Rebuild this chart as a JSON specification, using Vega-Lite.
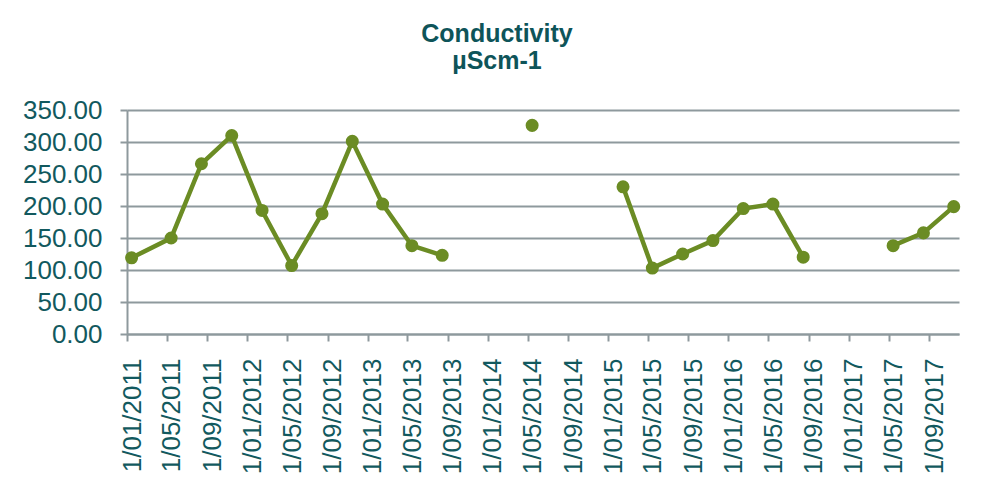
{
  "$schema": "https://vega.github.io/schema/vega-lite/v6.json",
  "autosize": {"type": "none"},
  "width": 832,
  "height": 224,
  "padding": {"left": 127, "top": 110, "right": 26, "bottom": 161},
  "background": "white",
  "title": {
    "text": ["Conductivity", "µScm-1"],
    "anchor": "middle",
    "frame": "group",
    "dx": -46,
    "offset": 23,
    "font": "Liberation Sans",
    "fontSize": 25,
    "fontWeight": "bold",
    "color": "#0E5459",
    "lineHeight": 27
  },
  "data": {
    "values": [
      {"date": "2011-01-15", "conductivity": 119},
      {"date": "2011-05-15", "conductivity": 150},
      {"date": "2011-08-15", "conductivity": 266},
      {"date": "2011-11-15", "conductivity": 310},
      {"date": "2012-02-15", "conductivity": 193},
      {"date": "2012-05-15", "conductivity": 107},
      {"date": "2012-08-15", "conductivity": 188},
      {"date": "2012-11-15", "conductivity": 301},
      {"date": "2013-02-15", "conductivity": 203},
      {"date": "2013-05-15", "conductivity": 138},
      {"date": "2013-08-15", "conductivity": 123},
      {"date": "2013-11-15", "conductivity": null},
      {"date": "2014-02-15", "conductivity": null},
      {"date": "2014-05-15", "conductivity": 326},
      {"date": "2014-08-15", "conductivity": null},
      {"date": "2014-11-15", "conductivity": null},
      {"date": "2015-02-15", "conductivity": 230},
      {"date": "2015-05-15", "conductivity": 103},
      {"date": "2015-08-15", "conductivity": 125},
      {"date": "2015-11-15", "conductivity": 146},
      {"date": "2016-02-15", "conductivity": 196},
      {"date": "2016-05-15", "conductivity": 203},
      {"date": "2016-08-15", "conductivity": 120},
      {"date": "2016-11-15", "conductivity": null},
      {"date": "2017-02-15", "conductivity": null},
      {"date": "2017-05-15", "conductivity": 138},
      {"date": "2017-08-15", "conductivity": 158},
      {"date": "2017-11-15", "conductivity": 199}
    ]
  },
  "encoding": {
    "x": {
      "field": "date",
      "type": "temporal",
      "title": null,
      "scale": {
        "type": "utc",
        "domain": [
          {"year": 2011, "month": 1, "date": 1, "utc": true},
          {"year": 2017, "month": 12, "date": 1, "utc": true}
        ]
      },
      "axis": {
        "values": [
          {"year": 2011, "month": 1, "date": 1, "utc": true},
          {"year": 2011, "month": 5, "date": 1, "utc": true},
          {"year": 2011, "month": 9, "date": 1, "utc": true},
          {"year": 2012, "month": 1, "date": 1, "utc": true},
          {"year": 2012, "month": 5, "date": 1, "utc": true},
          {"year": 2012, "month": 9, "date": 1, "utc": true},
          {"year": 2013, "month": 1, "date": 1, "utc": true},
          {"year": 2013, "month": 5, "date": 1, "utc": true},
          {"year": 2013, "month": 9, "date": 1, "utc": true},
          {"year": 2014, "month": 1, "date": 1, "utc": true},
          {"year": 2014, "month": 5, "date": 1, "utc": true},
          {"year": 2014, "month": 9, "date": 1, "utc": true},
          {"year": 2015, "month": 1, "date": 1, "utc": true},
          {"year": 2015, "month": 5, "date": 1, "utc": true},
          {"year": 2015, "month": 9, "date": 1, "utc": true},
          {"year": 2016, "month": 1, "date": 1, "utc": true},
          {"year": 2016, "month": 5, "date": 1, "utc": true},
          {"year": 2016, "month": 9, "date": 1, "utc": true},
          {"year": 2017, "month": 1, "date": 1, "utc": true},
          {"year": 2017, "month": 5, "date": 1, "utc": true},
          {"year": 2017, "month": 9, "date": 1, "utc": true}
        ],
        "format": "%-d/%m/%Y",
        "labelAngle": -90,
        "labelAlign": "right",
        "labelBaseline": "middle",
        "labelOffset": 5,
        "labelPadding": 17,
        "labelOverlap": false,
        "labelFlush": false,
        "labelFont": "Liberation Sans",
        "labelFontSize": 26,
        "labelColor": "#12595E",
        "grid": false,
        "domain": true,
        "domainColor": "#8E999D",
        "domainWidth": 2,
        "ticks": true,
        "tickSize": 7,
        "tickColor": "#8E999D",
        "tickWidth": 2
      }
    },
    "y": {
      "field": "conductivity",
      "type": "quantitative",
      "title": null,
      "scale": {"domain": [0, 350], "nice": false, "zero": true},
      "axis": {
        "values": [0, 50, 100, 150, 200, 250, 300, 350],
        "format": ".2f",
        "labelFont": "Liberation Sans",
        "labelFontSize": 26,
        "labelColor": "#12595E",
        "labelPadding": 18,
        "grid": true,
        "gridColor": "#8E999D",
        "gridWidth": 2,
        "domain": true,
        "domainColor": "#8E999D",
        "domainWidth": 2,
        "ticks": true,
        "tickSize": 7,
        "tickColor": "#8E999D",
        "tickWidth": 2
      }
    }
  },
  "layer": [
    {
      "mark": {
        "type": "line",
        "color": "#6B8C24",
        "strokeWidth": 4.5,
        "invalid": "break-paths-show-domains"
      }
    },
    {
      "mark": {
        "type": "point",
        "filled": true,
        "opacity": 1,
        "color": "#6B8C24",
        "size": 170
      }
    }
  ],
  "config": {
    "view": {"stroke": null}
  }
}
